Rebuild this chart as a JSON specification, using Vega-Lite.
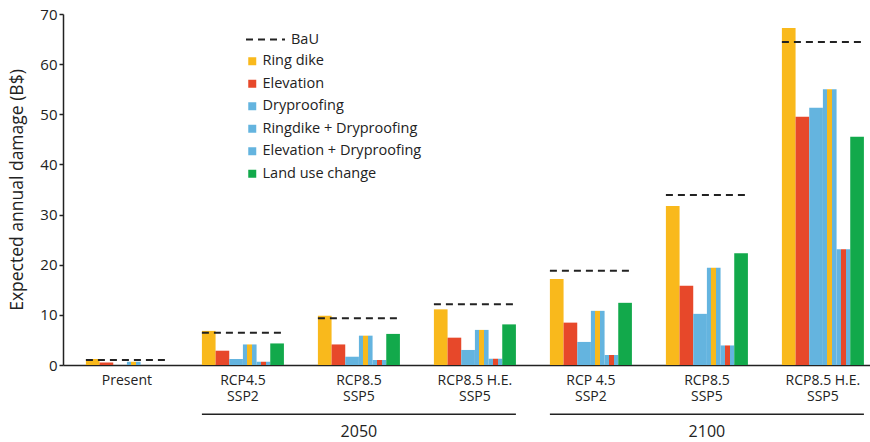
{
  "$schema": "https://vega.github.io/schema/vega-lite/v6.json",
  "width": 807,
  "height": 351,
  "autosize": {"type": "none"},
  "padding": {"left": 63, "top": 14, "right": 0, "bottom": 77},
  "config": {"font": "Open Sans", "view": {"stroke": null}, "axis": {"grid": false}},
  "datasets": {
    "bars": [
      {"scenario": "Present", "measure": "Ring dike", "damage": 1.2},
      {"scenario": "Present", "measure": "Elevation", "damage": 0.5},
      {"scenario": "Present", "measure": "Dryproofing", "damage": 0},
      {"scenario": "Present", "measure": "Ringdike + Dryproofing", "damage": 0.65},
      {"scenario": "Present", "measure": "Elevation + Dryproofing", "damage": 0},
      {"scenario": "Present", "measure": "Land use change", "damage": 0},
      {"scenario": "RCP4.5|SSP2|2050", "measure": "Ring dike", "damage": 6.8},
      {"scenario": "RCP4.5|SSP2|2050", "measure": "Elevation", "damage": 2.85},
      {"scenario": "RCP4.5|SSP2|2050", "measure": "Dryproofing", "damage": 1.2},
      {"scenario": "RCP4.5|SSP2|2050", "measure": "Ringdike + Dryproofing", "damage": 4.1},
      {"scenario": "RCP4.5|SSP2|2050", "measure": "Elevation + Dryproofing", "damage": 0.65},
      {"scenario": "RCP4.5|SSP2|2050", "measure": "Land use change", "damage": 4.3},
      {"scenario": "RCP8.5|SSP5|2050", "measure": "Ring dike", "damage": 9.8},
      {"scenario": "RCP8.5|SSP5|2050", "measure": "Elevation", "damage": 4.1},
      {"scenario": "RCP8.5|SSP5|2050", "measure": "Dryproofing", "damage": 1.65},
      {"scenario": "RCP8.5|SSP5|2050", "measure": "Ringdike + Dryproofing", "damage": 5.85},
      {"scenario": "RCP8.5|SSP5|2050", "measure": "Elevation + Dryproofing", "damage": 1.0},
      {"scenario": "RCP8.5|SSP5|2050", "measure": "Land use change", "damage": 6.2},
      {"scenario": "RCP8.5 H.E.|SSP5|2050", "measure": "Ring dike", "damage": 11.1},
      {"scenario": "RCP8.5 H.E.|SSP5|2050", "measure": "Elevation", "damage": 5.45},
      {"scenario": "RCP8.5 H.E.|SSP5|2050", "measure": "Dryproofing", "damage": 3.0},
      {"scenario": "RCP8.5 H.E.|SSP5|2050", "measure": "Ringdike + Dryproofing", "damage": 7.0},
      {"scenario": "RCP8.5 H.E.|SSP5|2050", "measure": "Elevation + Dryproofing", "damage": 1.25},
      {"scenario": "RCP8.5 H.E.|SSP5|2050", "measure": "Land use change", "damage": 8.1},
      {"scenario": "RCP 4.5|SSP2|2100", "measure": "Ring dike", "damage": 17.15},
      {"scenario": "RCP 4.5|SSP2|2100", "measure": "Elevation", "damage": 8.45},
      {"scenario": "RCP 4.5|SSP2|2100", "measure": "Dryproofing", "damage": 4.6},
      {"scenario": "RCP 4.5|SSP2|2100", "measure": "Ringdike + Dryproofing", "damage": 10.8},
      {"scenario": "RCP 4.5|SSP2|2100", "measure": "Elevation + Dryproofing", "damage": 2.0},
      {"scenario": "RCP 4.5|SSP2|2100", "measure": "Land use change", "damage": 12.4},
      {"scenario": "RCP8.5|SSP5|2100", "measure": "Ring dike", "damage": 31.7},
      {"scenario": "RCP8.5|SSP5|2100", "measure": "Elevation", "damage": 15.8},
      {"scenario": "RCP8.5|SSP5|2100", "measure": "Dryproofing", "damage": 10.2},
      {"scenario": "RCP8.5|SSP5|2100", "measure": "Ringdike + Dryproofing", "damage": 19.4},
      {"scenario": "RCP8.5|SSP5|2100", "measure": "Elevation + Dryproofing", "damage": 3.9},
      {"scenario": "RCP8.5|SSP5|2100", "measure": "Land use change", "damage": 22.3},
      {"scenario": "RCP8.5 H.E.|SSP5|2100", "measure": "Ring dike", "damage": 67.2},
      {"scenario": "RCP8.5 H.E.|SSP5|2100", "measure": "Elevation", "damage": 49.5},
      {"scenario": "RCP8.5 H.E.|SSP5|2100", "measure": "Dryproofing", "damage": 51.3},
      {"scenario": "RCP8.5 H.E.|SSP5|2100", "measure": "Ringdike + Dryproofing", "damage": 55.0},
      {"scenario": "RCP8.5 H.E.|SSP5|2100", "measure": "Elevation + Dryproofing", "damage": 23.1},
      {"scenario": "RCP8.5 H.E.|SSP5|2100", "measure": "Land use change", "damage": 45.5}
    ],
    "bau": [
      {"scenario": "Present", "bau": 1.0},
      {"scenario": "RCP4.5|SSP2|2050", "bau": 6.45},
      {"scenario": "RCP8.5|SSP5|2050", "bau": 9.3},
      {"scenario": "RCP8.5 H.E.|SSP5|2050", "bau": 12.1},
      {"scenario": "RCP 4.5|SSP2|2100", "bau": 18.8},
      {"scenario": "RCP8.5|SSP5|2100", "bau": 33.9},
      {"scenario": "RCP8.5 H.E.|SSP5|2100", "bau": 64.4}
    ],
    "years": [
      {"year": "2050", "first": "RCP4.5|SSP2|2050", "last": "RCP8.5 H.E.|SSP5|2050", "middle": "RCP8.5|SSP5|2050"},
      {"year": "2100", "first": "RCP 4.5|SSP2|2100", "last": "RCP8.5 H.E.|SSP5|2100", "middle": "RCP8.5|SSP5|2100"}
    ]
  },
  "layer": [
    {
      "data": {"name": "bars"},
      "mark": {"type": "bar", "strokeWidth": 0},
      "encoding": {
        "x": {
          "field": "scenario", "type": "nominal",
          "scale": {
            "domain": ["Present", "RCP4.5|SSP2|2050", "RCP8.5|SSP5|2050", "RCP8.5 H.E.|SSP5|2050", "RCP 4.5|SSP2|2100", "RCP8.5|SSP5|2100", "RCP8.5 H.E.|SSP5|2100"],
            "paddingInner": 0.293, "paddingOuter": 0.125, "align": 0.79
          },
          "axis": {
            "title": null, "ticks": false, "domainColor": "#222", "domainWidth": 1.5,
            "labelExpr": "slice(split(datum.value, '|'), 0, 2)",
            "labelAngle": 0, "labelFontSize": 14, "labelColor": "#222",
            "labelPadding": 8, "labelLineHeight": 16
          }
        },
        "xOffset": {
          "field": "measure", "type": "nominal",
          "scale": {"domain": ["Ring dike", "Elevation", "Dryproofing", "Ringdike + Dryproofing", "Elevation + Dryproofing", "Land use change"], "paddingInner": 0, "paddingOuter": 0}
        },
        "y": {
          "field": "damage", "type": "quantitative",
          "scale": {"domain": [0, 70], "nice": false},
          "axis": {
            "title": "Expected annual damage (B$)", "titleFontSize": 17.5, "titleFontWeight": "normal",
            "titleColor": "#222", "titlePadding": 13,
            "values": [0, 10, 20, 30, 40, 50, 60, 70],
            "labelFontSize": 15, "labelColor": "#222", "labelPadding": 2,
            "domainColor": "#222", "domainWidth": 1.5, "tickColor": "#222", "tickSize": 4, "tickWidth": 1.5
          }
        },
        "color": {
          "condition": [
            {"test": "datum.measure === 'Ringdike + Dryproofing'", "value": {"gradient": "linear", "x1": 0, "y1": 0, "x2": 1, "y2": 0, "stops": [
                {"offset": 0, "color": "#64B4DF"}, {"offset": 0.32, "color": "#64B4DF"},
                {"offset": 0.32, "color": "#F9B91C"}, {"offset": 0.68, "color": "#F9B91C"},
                {"offset": 0.68, "color": "#64B4DF"}, {"offset": 1, "color": "#64B4DF"}]}},
            {"test": "datum.measure === 'Elevation + Dryproofing'", "value": {"gradient": "linear", "x1": 0, "y1": 0, "x2": 1, "y2": 0, "stops": [
                {"offset": 0, "color": "#64B4DF"}, {"offset": 0.32, "color": "#64B4DF"},
                {"offset": 0.32, "color": "#E7482A"}, {"offset": 0.68, "color": "#E7482A"},
                {"offset": 0.68, "color": "#64B4DF"}, {"offset": 1, "color": "#64B4DF"}]}}
          ],
          "field": "measure", "type": "nominal",
          "scale": {
            "domain": ["Ring dike", "Elevation", "Dryproofing", "Ringdike + Dryproofing", "Elevation + Dryproofing", "Land use change"],
            "range": ["#F9B91C", "#E7482A", "#64B4DF", "#64B4DF", "#64B4DF", "#12A94B"]
          },
          "legend": {
            "title": null, "orient": "none", "legendX": 182, "legendY": 40, "padding": 0,
            "symbolType": "square", "symbolSize": 64, "symbolStrokeWidth": 0,
            "labelFontSize": 14.5, "labelColor": "#222", "labelLimit": 400, "rowPadding": 7.5, "labelOffset": 3
          }
        }
      }
    },
    {
      "data": {"name": "bau"},
      "mark": {"type": "rule", "strokeDash": [7, 5], "strokeWidth": 2},
      "encoding": {
        "x": {"field": "scenario", "type": "nominal", "bandPosition": 0},
        "x2": {"field": "scenario", "bandPosition": 1},
        "y": {"field": "bau", "type": "quantitative"},
        "stroke": {
          "datum": "BaU",
          "scale": {"domain": ["BaU"], "range": ["#222"]},
          "legend": {
            "title": null, "orient": "none", "legendX": 182, "legendY": 5, "padding": 0,
            "symbolType": "stroke", "symbolSize": 1521, "symbolDash": [7, 5], "symbolStrokeWidth": 2,
            "labelFontSize": 14.5, "labelColor": "#222", "labelOffset": 5
          }
        }
      }
    },
    {
      "data": {"name": "years"},
      "mark": {"type": "rule", "strokeWidth": 1.5, "color": "#222"},
      "encoding": {
        "x": {"field": "first", "type": "nominal", "bandPosition": 0},
        "x2": {"field": "last", "bandPosition": 1},
        "y": {"datum": -9.8, "type": "quantitative"}
      }
    },
    {
      "data": {"name": "years"},
      "mark": {"type": "text", "fontSize": 16, "color": "#222", "baseline": "middle"},
      "encoding": {
        "x": {"field": "middle", "type": "nominal"},
        "y": {"datum": -13.4, "type": "quantitative"},
        "text": {"field": "year"}
      }
    }
  ]
}
